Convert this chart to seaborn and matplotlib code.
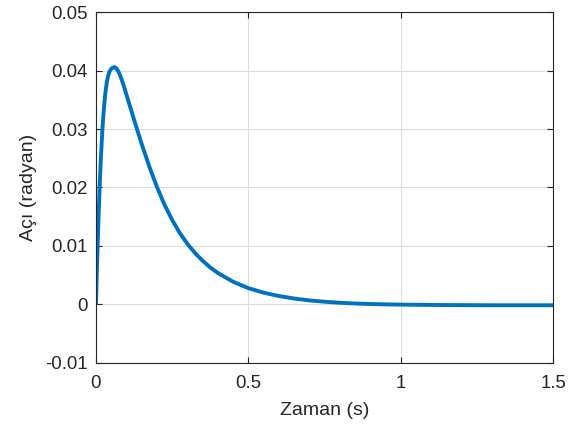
import matplotlib
matplotlib.use("Agg")
import matplotlib.pyplot as plt
import seaborn as sns
import pandas as pd

# Data
zaman = [0.0, 0.004, 0.008, 0.012, 0.016, 0.021, 0.025, 0.030, 0.035, 0.040,
         0.045, 0.050, 0.055, 0.061, 0.067, 0.075, 0.080, 0.090, 0.100, 0.125,
         0.150, 0.175, 0.200, 0.225, 0.250, 0.275, 0.300, 0.325, 0.350, 0.375,
         0.400, 0.450, 0.500, 0.550, 0.600, 0.650, 0.700, 0.750, 0.800, 0.850,
         0.900, 0.950, 1.000, 1.050, 1.100, 1.200, 1.300, 1.400, 1.500]
aci = [0.0, 0.0075, 0.0140, 0.0200, 0.0248, 0.0298, 0.0328, 0.0358, 0.0378, 0.0391,
       0.0399, 0.0403, 0.0405, 0.0406, 0.0404, 0.0397, 0.0391, 0.0376, 0.0359, 0.0316,
       0.02745, 0.0236, 0.0201, 0.01705, 0.01445, 0.01222, 0.01036, 0.00879, 0.00746, 0.00632,
       0.00537, 0.00387, 0.00278, 0.0020, 0.00143, 0.00100, 0.00068, 0.00045, 0.00028, 0.00015,
       0.00006, 0.0, -0.00004, -0.00007, -0.0001, -0.00013, -0.00015, -0.00015, -0.00015]
x_ticks = [0, 0.5, 1, 1.5]
x_tick_labels = ["0", "0.5", "1", "1.5"]
y_ticks = [-0.01, 0, 0.01, 0.02, 0.03, 0.04, 0.05]
y_tick_labels = ["-0.01", "0", "0.01", "0.02", "0.03", "0.04", "0.05"]

df = pd.DataFrame({"Zaman (s)": zaman, "Açı (radyan)": aci})

sns.set_style("white")
plt.rcParams["font.family"] = ["Liberation Sans", "DejaVu Sans"]

fig = plt.figure(figsize=(5.78, 4.34), dpi=100)
ax = fig.add_axes([0.166, 0.164, 0.791, 0.808])

sns.lineplot(data=df, x="Zaman (s)", y="Açı (radyan)", ax=ax,
             color="#0072BD", linewidth=2.8, sort=False)
ax.lines[0].set_solid_joinstyle("round")
ax.lines[0].set_solid_capstyle("butt")

ax.set_xlim(0, 1.5)
ax.set_ylim(-0.01, 0.05)
ax.set_xticks(x_ticks)
ax.set_xticklabels(x_tick_labels)
ax.set_yticks(y_ticks)
ax.set_yticklabels(y_tick_labels)

ax.grid(True, color="#dcdcdc", linewidth=0.8)
ax.set_axisbelow(True)
for s in ax.spines.values():
    s.set_color("#262626")
    s.set_linewidth(0.8)
    s.set_visible(True)

ax.tick_params(axis="both", direction="in", length=4, width=0.8,
               colors="#262626", labelsize=13.4, top=True, right=True,
               left=True, bottom=True, pad=6)
ax.tick_params(axis="x", pad=9)
for lab in ax.get_xticklabels() + ax.get_yticklabels():
    lab.set_color("#262626")

ax.set_xlabel("Zaman (s)", fontsize=14, color="#262626", labelpad=7)
ax.set_ylabel("Açı (radyan)", fontsize=14, color="#262626", labelpad=6)

fig.savefig("out.png", dpi=100, facecolor="white")
